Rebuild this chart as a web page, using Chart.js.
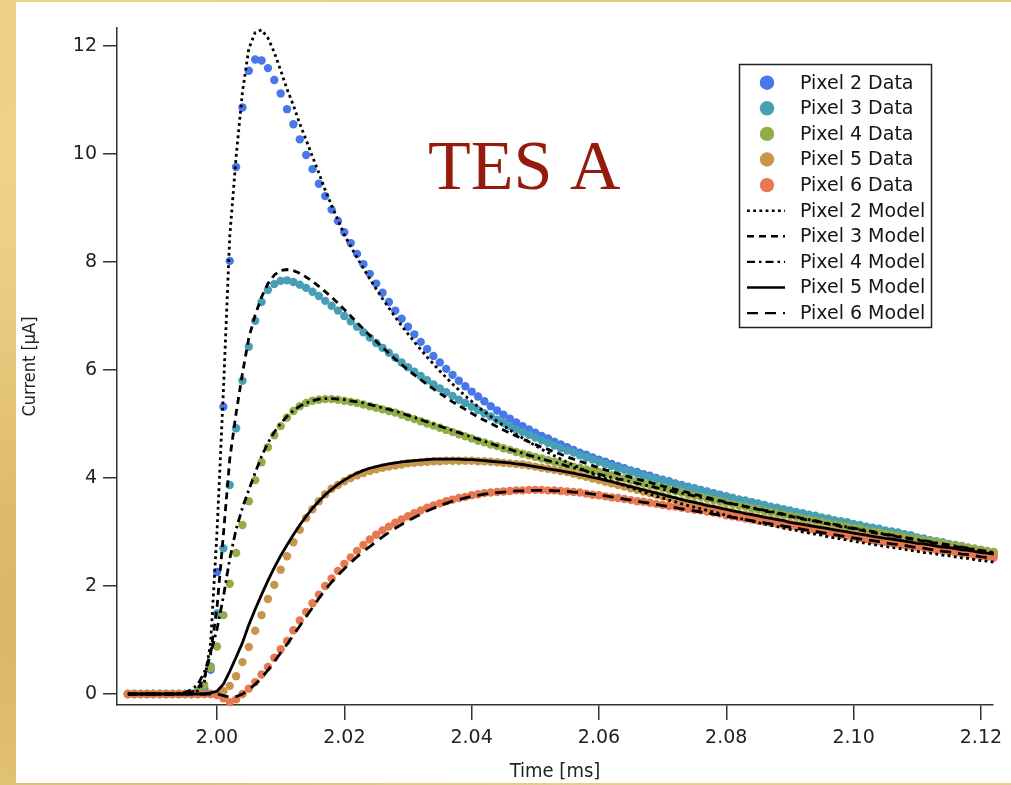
<!DOCTYPE html>
<html><head><meta charset="utf-8">
<script src="https://cdn.jsdelivr.net/npm/chart.js@4.4.1/dist/chart.umd.min.js"></script>
<style>
html,body{margin:0;padding:0;width:1011px;height:785px;overflow:hidden;}
body{background:
  radial-gradient(ellipse at 10% 20%, rgba(240,214,140,0.9), rgba(240,214,140,0) 40%),
  radial-gradient(ellipse at 5% 80%, rgba(214,178,96,0.8), rgba(214,178,96,0) 45%),
  linear-gradient(180deg,#e9cb80,#e4c276 50%,#ebcf88);}
#panel{position:absolute;left:16px;top:2px;width:995px;height:781px;background:#fff;}
#wrap{position:absolute;left:0;top:0;width:1011px;height:785px;}
</style></head>
<body><div id="panel"></div><div id="wrap"><canvas id="c" width="1011" height="785"></canvas></div>
<script>
const chartTitle = 'TES A';
const xAxisTitle = 'Time [ms]';
const yAxisTitle = 'Current [\u03bcA]';
const xTickValues = [2.00, 2.02, 2.04, 2.06, 2.08, 2.10, 2.12];
const yTickValues = [0, 2, 4, 6, 8, 10, 12];
const seriesLabels = ['Pixel 2 Data','Pixel 3 Data','Pixel 4 Data','Pixel 5 Data','Pixel 6 Data',
                      'Pixel 2 Model','Pixel 3 Model','Pixel 4 Model','Pixel 5 Model','Pixel 6 Model'];

const times = [1.986,1.987,1.988,1.989,
1.990,1.991,1.992,1.993,1.994,1.995,1.996,1.997,1.998,1.999,
2.000,2.001,2.002,2.003,2.004,2.005,2.006,2.007,2.008,2.009,
2.010,2.011,2.012,2.013,2.014,2.015,2.016,2.017,2.018,2.019,
2.020,2.021,2.022,2.023,2.024,2.025,2.026,2.027,2.028,2.029,
2.030,2.031,2.032,2.033,2.034,2.035,2.036,2.037,2.038,2.039,
2.040,2.041,2.042,2.043,2.044,2.045,2.046,2.047,2.048,2.049,
2.050,2.051,2.052,2.053,2.054,2.055,2.056,2.057,2.058,2.059,
2.060,2.061,2.062,2.063,2.064,2.065,2.066,2.067,2.068,2.069,
2.070,2.071,2.072,2.073,2.074,2.075,2.076,2.077,2.078,2.079,
2.080,2.081,2.082,2.083,2.084,2.085,2.086,2.087,2.088,2.089,
2.090,2.091,2.092,2.093,2.094,2.095,2.096,2.097,2.098,2.099,
2.100,2.101,2.102,2.103,2.104,2.105,2.106,2.107,2.108,2.109,
2.110,2.111,2.112,2.113,2.114,2.115,2.116,2.117,2.118,2.119,
2.120,2.121,2.122];

const pixel2Data = [0,0,0,0,
0,0,0,0,0,0,0,0,0.10,0.45,
2.26,5.32,8.02,9.76,10.86,11.54,11.75,11.73,11.59,11.37,
11.12,10.83,10.55,10.27,9.98,9.72,9.45,9.22,8.97,8.76,
8.55,8.35,8.15,7.96,7.78,7.60,7.43,7.26,7.10,6.95,
6.80,6.66,6.52,6.39,6.26,6.14,6.02,5.91,5.80,5.70,
5.60,5.51,5.42,5.33,5.25,5.17,5.10,5.03,4.96,4.90,
4.84,4.78,4.73,4.67,4.62,4.57,4.52,4.47,4.43,4.38,
4.34,4.30,4.26,4.22,4.18,4.14,4.11,4.07,4.04,4.00,
3.97,3.94,3.90,3.87,3.84,3.81,3.78,3.75,3.72,3.69,
3.66,3.63,3.60,3.58,3.55,3.52,3.49,3.46,3.44,3.41,
3.38,3.35,3.33,3.30,3.28,3.25,3.22,3.20,3.17,3.15,
3.12,3.10,3.07,3.05,3.02,3.00,2.97,2.95,2.92,2.90,
2.87,2.85,2.82,2.80,2.77,2.75,2.73,2.70,2.68,2.65,
2.63,2.60,2.58];

const pixel3Data = [0,0,0,0,
0,0,0,0,0,0,0,0,0.08,0.51,
1.49,2.70,3.87,4.92,5.80,6.43,6.91,7.26,7.48,7.59,
7.65,7.66,7.63,7.58,7.52,7.45,7.37,7.28,7.19,7.10,
7.00,6.90,6.80,6.70,6.60,6.50,6.41,6.32,6.23,6.14,
6.05,5.97,5.89,5.81,5.73,5.66,5.59,5.52,5.45,5.39,
5.32,5.26,5.20,5.14,5.08,5.02,4.96,4.90,4.85,4.80,
4.75,4.70,4.65,4.60,4.55,4.51,4.47,4.42,4.38,4.34,
4.30,4.26,4.22,4.18,4.15,4.11,4.08,4.04,4.01,3.98,
3.95,3.92,3.89,3.86,3.83,3.80,3.77,3.74,3.71,3.68,
3.66,3.63,3.60,3.58,3.55,3.53,3.50,3.47,3.45,3.42,
3.40,3.37,3.35,3.32,3.30,3.27,3.25,3.22,3.20,3.18,
3.15,3.13,3.10,3.08,3.06,3.03,3.01,2.99,2.96,2.94,
2.90,2.88,2.85,2.83,2.81,2.78,2.76,2.74,2.71,2.69,
2.66,2.64,2.62];

const pixel4Data = [0,0,0,0,
0,0,0,0,0,0,0,0.05,0.17,0.48,
0.88,1.46,2.04,2.61,3.13,3.57,3.96,4.29,4.57,4.79,
4.96,5.12,5.24,5.33,5.39,5.43,5.45,5.46,5.46,5.45,
5.43,5.41,5.39,5.36,5.33,5.30,5.27,5.24,5.21,5.17,
5.13,5.09,5.05,5.01,4.97,4.93,4.89,4.85,4.81,4.77,
4.73,4.69,4.66,4.62,4.59,4.55,4.52,4.48,4.45,4.42,
4.39,4.36,4.33,4.30,4.27,4.24,4.21,4.19,4.16,4.13,
4.11,4.08,4.05,4.02,3.99,3.96,3.93,3.90,3.87,3.84,
3.81,3.78,3.76,3.73,3.70,3.67,3.65,3.62,3.59,3.57,
3.54,3.52,3.49,3.47,3.44,3.42,3.39,3.37,3.35,3.32,
3.30,3.28,3.25,3.23,3.21,3.19,3.16,3.14,3.12,3.10,
3.08,3.06,3.03,3.01,2.99,2.97,2.95,2.93,2.91,2.89,
2.87,2.85,2.83,2.81,2.79,2.77,2.75,2.73,2.71,2.69,
2.67,2.65,2.63];

const pixel5Data = [0,0,0,0,
0,0,0,0,0,0,0,0,0,0,
0,0.05,0.15,0.33,0.59,0.87,1.17,1.46,1.76,2.02,
2.30,2.55,2.81,3.04,3.26,3.42,3.57,3.70,3.80,3.87,
3.94,4.00,4.05,4.09,4.13,4.16,4.19,4.21,4.23,4.25,
4.27,4.28,4.29,4.30,4.31,4.31,4.32,4.32,4.32,4.32,
4.32,4.31,4.31,4.30,4.29,4.28,4.27,4.26,4.25,4.23,
4.21,4.19,4.17,4.15,4.13,4.11,4.08,4.05,4.02,3.99,
3.96,3.93,3.90,3.87,3.84,3.81,3.78,3.75,3.72,3.69,
3.66,3.63,3.60,3.57,3.55,3.52,3.49,3.47,3.44,3.42,
3.39,3.37,3.34,3.32,3.30,3.27,3.25,3.23,3.21,3.18,
3.16,3.14,3.12,3.10,3.08,3.06,3.04,3.02,3.00,2.98,
2.96,2.94,2.92,2.91,2.89,2.87,2.85,2.84,2.82,2.80,
2.78,2.77,2.75,2.73,2.72,2.70,2.68,2.67,2.65,2.64,
2.62,2.61,2.59];

const pixel6Data = [0,0,0,0,
0,0,0,0,0,0,0,0,0,0,
-0.02,-0.08,-0.15,-0.10,0.00,0.10,0.22,0.36,0.50,0.67,
0.83,0.98,1.18,1.36,1.52,1.68,1.84,2.00,2.14,2.28,
2.41,2.53,2.65,2.76,2.86,2.95,3.03,3.10,3.17,3.23,
3.29,3.35,3.40,3.45,3.49,3.53,3.57,3.60,3.63,3.65,
3.68,3.70,3.72,3.73,3.74,3.75,3.76,3.77,3.77,3.78,
3.78,3.78,3.77,3.77,3.76,3.75,3.74,3.73,3.71,3.69,
3.68,3.66,3.64,3.63,3.61,3.59,3.57,3.56,3.54,3.52,
3.50,3.48,3.47,3.45,3.43,3.41,3.40,3.38,3.36,3.34,
3.31,3.29,3.27,3.25,3.23,3.21,3.19,3.17,3.15,3.13,
3.11,3.09,3.07,3.05,3.03,3.01,2.99,2.97,2.95,2.93,
2.91,2.89,2.87,2.85,2.83,2.82,2.80,2.78,2.76,2.74,
2.72,2.71,2.69,2.67,2.65,2.64,2.62,2.60,2.59,2.57,
2.55,2.54,2.52];

const pixel2Model = [0,0,0,0,
0,0,0,0,0.01,0.02,0.03,0.06,0.22,0.95,
3.00,5.60,8.47,9.95,11.15,11.95,12.25,12.30,12.15,11.88,
11.55,11.20,10.90,10.56,10.26,9.95,9.65,9.33,9.05,8.78,
8.50,8.29,8.08,7.88,7.69,7.50,7.32,7.15,6.98,6.82,
6.67,6.52,6.38,6.24,6.11,5.98,5.86,5.74,5.63,5.52,
5.42,5.32,5.23,5.14,5.05,4.97,4.89,4.81,4.74,4.67,
4.60,4.53,4.47,4.41,4.35,4.29,4.24,4.18,4.13,4.08,
4.03,3.99,3.94,3.90,3.86,3.82,3.78,3.74,3.70,3.66,
3.63,3.59,3.56,3.52,3.49,3.46,3.43,3.40,3.37,3.34,
3.31,3.28,3.25,3.23,3.20,3.17,3.15,3.12,3.10,3.07,
3.05,3.03,3.00,2.98,2.96,2.94,2.91,2.89,2.87,2.85,
2.83,2.81,2.79,2.77,2.75,2.73,2.71,2.70,2.68,2.66,
2.64,2.62,2.61,2.59,2.57,2.56,2.54,2.52,2.51,2.49,
2.47,2.46,2.44];

const pixel3Model = [0,0,0,0,
0,0,0,0,0,0,0.03,0.10,0.30,0.75,
1.60,2.95,4.35,5.20,5.94,6.60,7.02,7.35,7.60,7.76,
7.84,7.86,7.84,7.79,7.72,7.64,7.55,7.45,7.35,7.24,
7.12,7.00,6.88,6.76,6.64,6.53,6.42,6.31,6.20,6.10,
6.00,5.91,5.82,5.73,5.65,5.57,5.49,5.41,5.34,5.27,
5.20,5.13,5.07,5.01,4.95,4.89,4.83,4.78,4.72,4.67,
4.62,4.57,4.53,4.48,4.44,4.39,4.35,4.31,4.27,4.23,
4.19,4.15,4.12,4.08,4.05,4.01,3.98,3.95,3.92,3.88,
3.85,3.82,3.79,3.76,3.73,3.70,3.67,3.64,3.61,3.58,
3.55,3.52,3.50,3.47,3.44,3.42,3.39,3.37,3.34,3.32,
3.29,3.27,3.24,3.22,3.20,3.17,3.15,3.13,3.10,3.08,
3.06,3.04,3.01,2.99,2.97,2.95,2.93,2.91,2.89,2.87,
2.85,2.83,2.81,2.79,2.77,2.75,2.73,2.71,2.69,2.67,
2.65,2.63,2.61];

const pixel4Model = [0,0,0,0,
0,0,0,0,0.01,0.03,0.08,0.18,0.40,0.75,
1.20,1.80,2.50,3.05,3.45,3.78,4.10,4.40,4.65,4.85,
5.01,5.14,5.25,5.33,5.39,5.43,5.46,5.47,5.47,5.46,
5.45,5.43,5.41,5.39,5.36,5.33,5.30,5.27,5.24,5.20,
5.16,5.12,5.08,5.04,5.00,4.96,4.92,4.88,4.84,4.80,
4.76,4.72,4.68,4.64,4.60,4.56,4.53,4.49,4.46,4.42,
4.39,4.35,4.32,4.29,4.26,4.22,4.19,4.16,4.13,4.10,
4.07,4.04,4.01,3.98,3.96,3.93,3.90,3.87,3.85,3.82,
3.79,3.77,3.74,3.72,3.69,3.67,3.64,3.62,3.59,3.57,
3.54,3.52,3.50,3.47,3.45,3.43,3.40,3.38,3.36,3.33,
3.30,3.28,3.25,3.23,3.21,3.18,3.16,3.14,3.12,3.09,
3.07,3.05,3.03,3.01,2.98,2.96,2.94,2.92,2.90,2.88,
2.86,2.84,2.82,2.80,2.78,2.76,2.74,2.72,2.70,2.68,
2.66,2.64,2.62];

const pixel5Model = [0,0,0,0,
0,0,0,0,0,0,0,0,0,0.02,
0.05,0.18,0.42,0.68,0.95,1.28,1.57,1.84,2.10,2.34,
2.56,2.76,2.95,3.13,3.29,3.44,3.57,3.69,3.79,3.88,
3.96,4.03,4.09,4.14,4.18,4.21,4.24,4.26,4.28,4.30,
4.31,4.32,4.33,4.34,4.35,4.35,4.35,4.35,4.35,4.34,
4.34,4.33,4.32,4.31,4.30,4.29,4.28,4.26,4.25,4.23,
4.21,4.19,4.17,4.15,4.13,4.11,4.09,4.06,4.04,4.01,
3.99,3.96,3.93,3.90,3.87,3.84,3.81,3.78,3.75,3.72,
3.69,3.66,3.63,3.60,3.57,3.55,3.52,3.49,3.47,3.44,
3.42,3.39,3.37,3.34,3.32,3.30,3.27,3.25,3.23,3.21,
3.18,3.16,3.14,3.12,3.10,3.08,3.06,3.04,3.02,3.00,
2.98,2.96,2.94,2.92,2.90,2.88,2.87,2.85,2.83,2.81,
2.79,2.78,2.76,2.74,2.72,2.71,2.69,2.67,2.66,2.64,
2.62,2.61,2.59];

const pixel6Model = [0,0,0,0,
0,0,0,0,0,0,0,0,0,0,
0.00,-0.03,-0.06,-0.05,0.00,0.08,0.18,0.30,0.44,0.60,
0.76,0.92,1.09,1.26,1.43,1.60,1.77,1.93,2.07,2.20,
2.32,2.43,2.54,2.64,2.73,2.82,2.91,2.99,3.07,3.14,
3.21,3.27,3.33,3.39,3.44,3.49,3.53,3.57,3.60,3.63,
3.66,3.68,3.70,3.72,3.73,3.74,3.75,3.76,3.76,3.77,
3.77,3.77,3.77,3.76,3.76,3.75,3.74,3.73,3.72,3.70,
3.69,3.67,3.65,3.63,3.61,3.59,3.57,3.55,3.53,3.51,
3.49,3.47,3.45,3.43,3.41,3.39,3.37,3.35,3.33,3.31,
3.29,3.27,3.25,3.23,3.21,3.19,3.17,3.15,3.13,3.11,
3.09,3.07,3.05,3.03,3.01,2.99,2.97,2.95,2.93,2.91,
2.89,2.87,2.86,2.84,2.82,2.80,2.78,2.77,2.75,2.73,
2.71,2.70,2.68,2.66,2.64,2.63,2.61,2.59,2.58,2.56,
2.54,2.53,2.51];

const dataColors = ['#4878e8', '#469fb5', '#92ad48', '#c8964b', '#e87850'];
const modelDashes = [[2.8, 3.4], [7, 5], [8, 4, 2.5, 4], [], [11, 7]];

const pts = arr => times.map((t, i) => ({x: t, y: arr[i]}));
const dataSeries = [pixel2Data, pixel3Data, pixel4Data, pixel5Data, pixel6Data];
const modelSeries = [pixel2Model, pixel3Model, pixel4Model, pixel5Model, pixel6Model];

const datasets = [];
dataSeries.forEach((arr, k) => datasets.push({
  label: seriesLabels[k], data: pts(arr), showLine: false,
  pointRadius: 4.2, pointBorderWidth: 0, pointBackgroundColor: dataColors[k],
  backgroundColor: dataColors[k], borderColor: dataColors[k], order: 9 - k, clip: false
}));
modelSeries.forEach((arr, k) => datasets.push({
  label: seriesLabels[k + 5], data: pts(arr), showLine: true, pointRadius: 0,
  borderColor: '#000', borderWidth: 2.8, borderDash: modelDashes[k], fill: false,
  tension: 0, order: k, clip: false
}));

const legendPlugin = {
  id: 'customLegend',
  afterDraw(chart) {
    const ctx = chart.ctx;
    ctx.save();
    ctx.fillStyle = '#fff';
    ctx.fillRect(739.5, 64.5, 192, 263);
    ctx.strokeStyle = '#222'; ctx.lineWidth = 1.5;
    ctx.strokeRect(739.5, 64.5, 192, 263);
    chart.data.datasets.forEach((ds, k) => {
      const y = 82.7 + k * 25.6;
      if (ds.showLine === false) {
        ctx.beginPath(); ctx.fillStyle = ds.backgroundColor;
        ctx.arc(767, y, 7.2, 0, Math.PI * 2); ctx.fill();
      } else {
        ctx.beginPath(); ctx.strokeStyle = '#000'; ctx.lineWidth = 2.4;
        ctx.setLineDash(ds.borderDash || []);
        ctx.moveTo(747, y); ctx.lineTo(785, y); ctx.stroke();
        ctx.setLineDash([]);
      }
      ctx.fillStyle = '#151515'; ctx.font = '19px "DejaVu Sans"';
      ctx.textBaseline = 'middle'; ctx.textAlign = 'left';
      ctx.fillText(ds.label, 800, y + 1);
    });
    ctx.font = '70px "Liberation Serif"'; ctx.fillStyle = '#961a0c';
    ctx.textBaseline = 'alphabetic'; ctx.textAlign = 'left';
    ctx.fillText(chartTitle, 428, 189);
    ctx.restore();
  }
};

Chart.defaults.font.family = '"DejaVu Sans", sans-serif';
Chart.defaults.font.size = 19;
Chart.defaults.color = '#222';

new Chart(document.getElementById('c'), {
  type: 'scatter',
  data: { datasets },
  options: {
    responsive: false, animation: false, devicePixelRatio: 1, events: [],
    layout: { padding: { left: 0, right: 18, top: 28, bottom: 0 } },
    plugins: { legend: { display: false }, tooltip: { enabled: false } },
    scales: {
      x: {
        type: 'linear', min: 1.98429, max: 2.1219,
        afterBuildTicks: s => { s.ticks = xTickValues.map(v => ({value: v})); },
        afterFit: s => { s.height = 80; },
        ticks: { padding: 7, color: '#222', callback: v => Number(v).toFixed(2), maxRotation: 0 },
        grid: { drawOnChartArea: false, drawTicks: true, tickLength: 15, color: '#333', lineWidth: 1.5 },
        border: { display: true, color: '#333', width: 1.5 },
        title: { display: true, text: xAxisTitle, color: '#222',
                 font: { family: '"DejaVu Sans Condensed","DejaVu Sans"', size: 20, lineHeight: 1 },
                 padding: { top: 0, bottom: 3 } }
      },
      y: {
        type: 'linear', min: -0.204, max: 12.333,
        afterBuildTicks: s => { s.ticks = yTickValues.map(v => ({value: v})); },
        afterFit: s => { s.width = 117; },
        ticks: { padding: 6, color: '#222', callback: v => String(v) },
        grid: { drawOnChartArea: false, drawTicks: true, tickLength: 14, color: '#333', lineWidth: 1.5 },
        border: { display: true, color: '#333', width: 1.5 },
        title: { display: true, text: yAxisTitle, color: '#222',
                 font: { family: '"DejaVu Sans Condensed","DejaVu Sans"', size: 18, lineHeight: 1 },
                 padding: { top: 21, bottom: 0 } }
      }
    }
  },
  plugins: [legendPlugin]
});
</script>
</body></html>
